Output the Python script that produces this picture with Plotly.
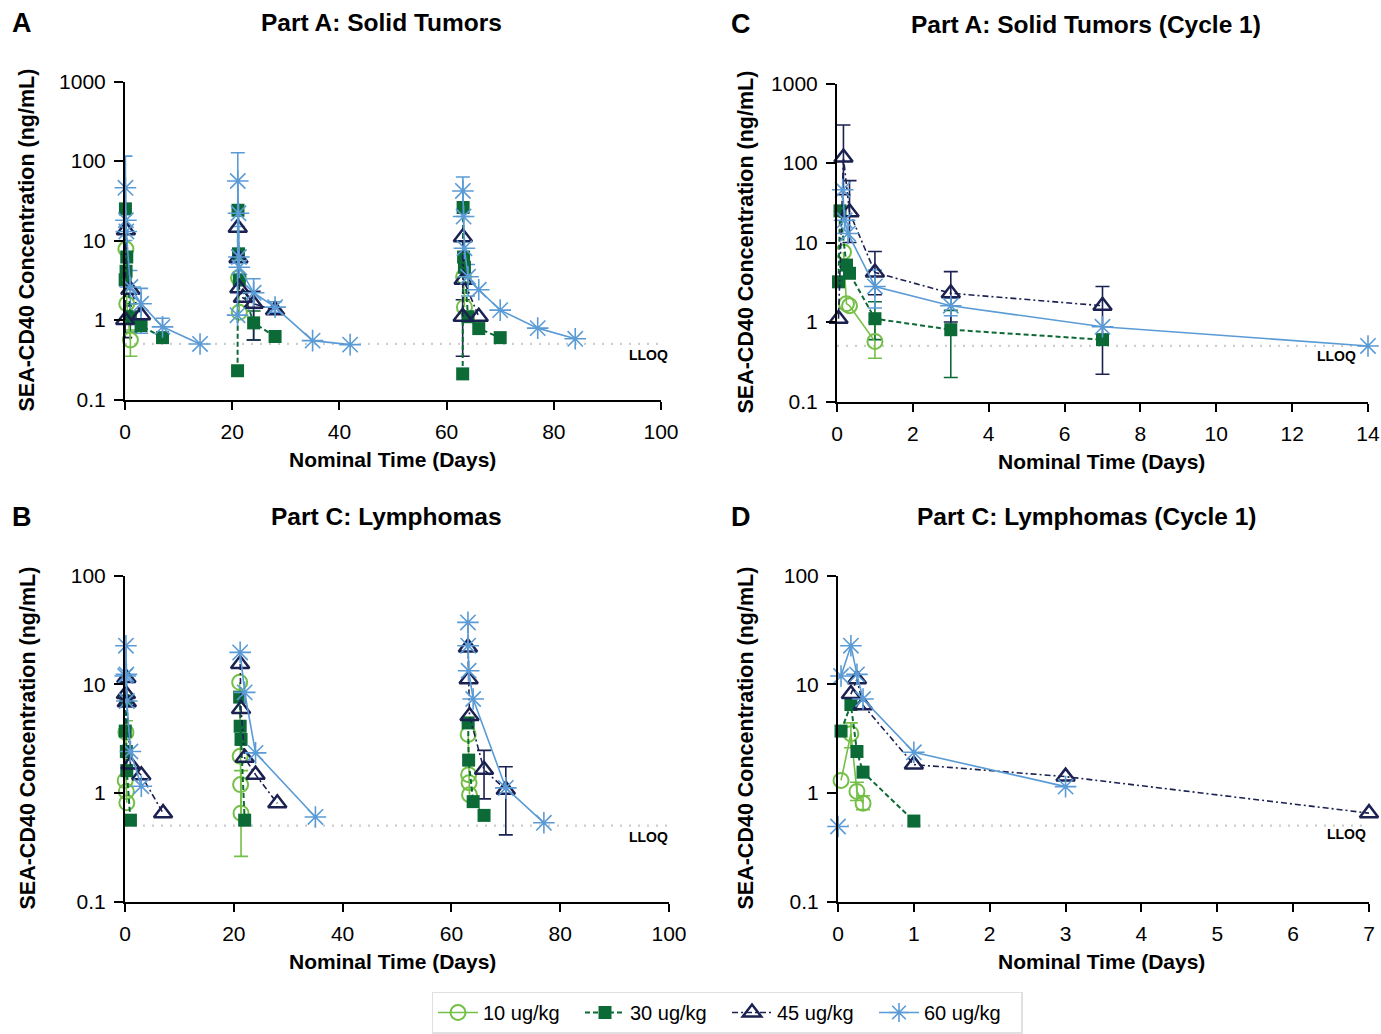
import plotly.graph_objects as go

W, H = 1381, 1034
FONT = "Liberation Sans, Arial, sans-serif"

DOSES = ["10 ug/kg", "30 ug/kg", "45 ug/kg", "60 ug/kg"]
COLORS = ["#74BF46", "#0B6A35", "#1B2150", "#5B9BD5"]
SYMBOLS = ["circle-open", "square", "triangle-up-open", "asterisk-open"]
SIZES = [15, 13, 16, 18]
MLW = [2, 0, 2.5, 1.6]
DASHES = ["solid", "5px,3px", "6px,3px,2px,3px", "solid"]
LLOQ = 0.5

# ---------------- Panel A: Part A Solid Tumors (all cycles) ----------------
A_T10 = [0.17, 0.33, 1, None, 21.17, 21.33, None, 63.17, 63.33]
A_V10 = [7.8, 1.6, 0.56, None, 3.4, 1.25, None, 3.5, 1.45]
A_T30 = [0.03, 0.08, 0.2, 0.33, 1, 3, 7, None, 21.0, 21.08, 21.17, 21.33, 24, 28,
         None, 63.0, 63.08, 63.17, 63.33, 64, 66, 70]
A_V30 = [3.2, 25, 4.1, 6.2, 1.1, 0.85, 0.6, None, 0.23, 24, 6.8, 3.2, 0.92, 0.62,
         None, 0.21, 26, 6.2, 4.6, 1.1, 0.78, 0.6]
A_T45 = [0.04, 0.17, 1, 3, None, 21.04, 21.17, 21.33, 22, 24, 28, None, 63.0, 63.04, 63.17, 66]
A_V45 = [1.0, 13.5, 2.4, 1.15, None, 14.5, 6.0, 2.5, 1.9, 1.6, 1.33, None, 1.1, 11, 3.2, 1.1]
A_T60 = [0.08, 0.17, 0.25, 1, 3, 7, 14, None, 21.0, 21.04, 21.17, 21.25, 21.33, 24, 28, 35, 42,
         None, 63.04, 63.17, 63.33, 64, 66, 70, 77, 84]
A_V60 = [46, 18, 13, 2.6, 1.6, 0.82, 0.5, None, 1.15, 56, 22, 6.2, 4.6, 2.2, 1.45, 0.55, 0.49,
         None, 42, 20, 8, 3.5, 2.4, 1.33, 0.79, 0.58]
# error bars: (time, value, lower, upper)
A_ERR10 = [(1, 0.56, 0.35, 0.75)]
A_ERR30 = [(24, 0.92, 0.56, 1.3), (1, 1.1, 0.7, 1.6)]
A_ERR45 = [(24, 1.6, 0.56, 2.3), (63.0, 1.1, 0.35, 1.8), (0.04, 1.0, 0.6, 1.5)]
A_ERR60 = [(0.08, 46, 10, 115), (1, 2.6, 1.0, 4.2), (3, 1.6, 0.68, 2.5), (7, 0.82, 0.68, 1.05),
           (21.04, 56, 15, 127), (24, 2.2, 1.4, 3.3), (28, 1.45, 1.25, 1.7),
           (63.04, 42, 20, 63), (64, 3.5, 2.0, 5.0)]

# ---------------- Panel C: Part A Solid Tumors (Cycle 1) ----------------
C_T10 = [0.17, 0.25, 0.33, 1]
C_V10 = [7.6, 1.7, 1.6, 0.57]
C_T30 = [0.04, 0.08, 0.25, 0.33, 1, 3, 7]
C_V30 = [3.2, 25, 5.2, 4.1, 1.1, 0.8, 0.6]
C_T45 = [0.04, 0.17, 0.33, 1, 3, 7]
C_V45 = [1.1, 117, 24, 4.2, 2.3, 1.6]
C_T60 = [0.15, 0.2, 0.29, 1, 3, 7, 14]
C_V60 = [46, 19, 13, 2.8, 1.6, 0.87, 0.5]
C_ERR10 = [(1, 0.57, 0.35, 1.0)]
C_ERR30 = [(3, 0.8, 0.2, 1.4), (1, 1.1, 0.6, 1.8)]
C_ERR45 = [(0.17, 117, 40, 300), (0.33, 24, 10, 60), (1, 4.2, 2.2, 7.7), (3, 2.3, 1.0, 4.3),
           (7, 1.6, 0.22, 2.8)]
C_ERR60 = [(1, 2.8, 1.5, 4.5), (3, 1.6, 1.2, 2.0)]

# ---------------- Panel B: Part C Lymphomas (all cycles) ----------------
B_T10 = [0.04, 0.17, 0.25, 0.33, None, 21.08, 21.17, 21.25, 21.33, None, 63.08, 63.17, 63.25, 63.33]
B_V10 = [1.3, 3.6, 1.03, 0.81, None, 10.4, 2.17, 1.19, 0.65, None, 3.45, 1.47, 1.24, 0.96]
B_T30 = [0.04, 0.17, 0.25, 0.33, 1, None, 21.08, 21.17, 21.33, 22, None, 63.08, 63.17, 64, 66]
B_V30 = [3.7, 7.0, 2.4, 1.6, 0.56, None, 7.6, 4.1, 3.1, 0.56, None, 4.4, 2.0, 0.83, 0.62]
B_T45 = [0.17, 0.25, 0.33, 1, 3, 7, None, 21.17, 21.33, 22, 24, 28, None, 63.04, 63.17, 63.33, 66, 70]
B_V45 = [8.1, 11.4, 6.8, 1.82, 1.45, 0.65, None, 15.3, 5.9, 2.1, 1.47, 0.8, None, 21.8, 11.1, 5.1, 1.63, 1.07]
B_T60 = [0.04, 0.17, 0.25, 0.33, 1, 3, None, 21.17, 22, 24, 35, None, 63.04, 63.08, 63.17, 64, 70, 77]
B_V60 = [11.9, 22.6, 12.3, 7.0, 2.4, 1.15, None, 19.6, 8.4, 2.33, 0.6, None, 37, 22.6, 13.3, 7.3, 1.11, 0.53]
B_ERR10 = [(21.33, 0.65, 0.26, 1.6), (0.17, 3.6, 2.6, 4.6)]
B_ERR30 = []
B_ERR45 = [(66, 1.63, 0.88, 2.46), (70, 1.07, 0.41, 1.74)]
B_ERR60 = []

# ---------------- Panel D: Part C Lymphomas (Cycle 1) ----------------
D_T10 = [0.04, 0.17, 0.25, 0.33]
D_V10 = [1.3, 3.5, 1.03, 0.8]
D_T30 = [0.04, 0.17, 0.25, 0.33, 1]
D_V30 = [3.7, 6.5, 2.4, 1.55, 0.55]
D_T45 = [0.17, 0.25, 0.33, 1, 3, 7]
D_V45 = [8.1, 11.1, 6.4, 1.82, 1.41, 0.65]
D_T60 = [0, None, 0.04, 0.17, 0.25, 0.33, 1, 3]
D_V60 = [0.49, None, 11.9, 22.6, 12.3, 7.3, 2.36, 1.14]
D_ERR10 = [(0.17, 3.5, 2.6, 4.4), (0.25, 1.03, 0.85, 1.25), (0.33, 0.8, 0.7, 0.94)]
D_ERR30 = []
D_ERR45 = []
D_ERR60 = []

X_TICKS_A = [0, 20, 40, 60, 80, 100]
X_TICKS_C = [0, 2, 4, 6, 8, 10, 12, 14]
X_TICKS_D = [0, 1, 2, 3, 4, 5, 6, 7]
Y_TICKS_1000 = [0.1, 1, 10, 100, 1000]
Y_TICKS_100 = [0.1, 1, 10, 100]
Y_TICK_TEXT = {0.1: "0.1", 1: "1", 10: "10", 100: "100", 1000: "1000"}

# panel geometry in pixels: (x0px, x1px, ytop_px, ybot_px)
PANELS = {
    "A": dict(ax="", px=(125, 661), py=(81.5, 399.5), xr=(0, 100), yr=(-1, 3), xt=X_TICKS_A, yt=Y_TICKS_1000,
              data=[(A_T10, A_V10, A_ERR10), (A_T30, A_V30, A_ERR30), (A_T45, A_V45, A_ERR45), (A_T60, A_V60, A_ERR60)],
              title="Part A: Solid Tumors", letter="A"),
    "C": dict(ax="2", px=(837, 1368), py=(83.5, 401.5), xr=(0, 14), yr=(-1, 3), xt=X_TICKS_C, yt=Y_TICKS_1000,
              data=[(C_T10, C_V10, C_ERR10), (C_T30, C_V30, C_ERR30), (C_T45, C_V45, C_ERR45), (C_T60, C_V60, C_ERR60)],
              title="Part A: Solid Tumors (Cycle 1)", letter="C"),
    "B": dict(ax="3", px=(125, 669), py=(575.5, 901.5), xr=(0, 100), yr=(-1, 2), xt=X_TICKS_A, yt=Y_TICKS_100,
              data=[(B_T10, B_V10, B_ERR10), (B_T30, B_V30, B_ERR30), (B_T45, B_V45, B_ERR45), (B_T60, B_V60, B_ERR60)],
              title="Part C: Lymphomas", letter="B"),
    "D": dict(ax="4", px=(838, 1369), py=(575.5, 901.5), xr=(0, 7), yr=(-1, 2), xt=X_TICKS_D, yt=Y_TICKS_100,
              data=[(D_T10, D_V10, D_ERR10), (D_T30, D_V30, D_ERR30), (D_T45, D_V45, D_ERR45), (D_T60, D_V60, D_ERR60)],
              title="Part C: Lymphomas (Cycle 1)", letter="D"),
}

fig = go.Figure()
layout = dict(
    width=W, height=H, margin=dict(l=0, r=0, t=0, b=0, autoexpand=False),
    paper_bgcolor="white", plot_bgcolor="white",
    font=dict(family=FONT, color="black", size=21),
    showlegend=True,
    legend=dict(orientation="h", x=727 / W, xanchor="center", y=1 - 991.5 / H, yanchor="top",
                bordercolor="#e0e0e0", borderwidth=1.5, font=dict(size=20), itemwidth=40,
                entrywidth=92, entrywidthmode="pixels", traceorder="normal"),
    annotations=[],
)

first = True
for key, p in PANELS.items():
    xa, ya = "x" + p["ax"], "y" + p["ax"]
    xname, yname = "xaxis" + p["ax"], "yaxis" + p["ax"]
    x0, x1 = p["px"]
    yt, yb = p["py"]
    layout[xname] = dict(domain=[x0 / W, x1 / W], range=list(p["xr"]), anchor=ya,
                         showline=True, linecolor="black", linewidth=2, ticks="outside",
                         ticklen=8, tickwidth=2, tickcolor="black", showgrid=False, zeroline=False,
                         tickvals=p["xt"], ticktext=[str(v) for v in p["xt"]], ticklabelstandoff=4,
                         tickfont=dict(size=21, family=FONT))
    layout[yname] = dict(domain=[1 - yb / H, 1 - yt / H], type="log", range=list(p["yr"]), anchor=xa,
                         showline=True, linecolor="black", linewidth=2, ticks="outside",
                         ticklen=9, tickwidth=2, tickcolor="black", showgrid=False, zeroline=False,
                         tickvals=p["yt"], ticktext=[Y_TICK_TEXT[v] for v in p["yt"]], ticklabelstandoff=4,
                         tickfont=dict(size=21, family=FONT))
    # LLOQ dotted line
    fig.add_trace(go.Scatter(x=list(p["xr"]), y=[LLOQ, LLOQ], mode="lines", xaxis=xa, yaxis=ya,
                             line=dict(color="#cdcdcd", width=2.2, dash="2px,7px"), showlegend=False,
                             hoverinfo="skip"))
    # error bars first (under markers)
    for i, (t, v, errs) in enumerate(p["data"]):
        if errs:
            et = [e[0] for e in errs]
            ev = [e[1] for e in errs]
            elo = [e[1] - e[2] for e in errs]
            ehi = [e[3] - e[1] for e in errs]
            fig.add_trace(go.Scatter(x=et, y=ev, mode="markers", xaxis=xa, yaxis=ya,
                                     marker=dict(size=1, color="rgba(0,0,0,0)"),
                                     error_y=dict(type="data", symmetric=False, array=ehi, arrayminus=elo,
                                                  color=COLORS[i], thickness=1.6, width=7),
                                     showlegend=False, hoverinfo="skip", cliponaxis=False))
    for i, (t, v, errs) in enumerate(p["data"]):
        fig.add_trace(go.Scatter(
            x=t, y=v, mode="lines+markers", xaxis=xa, yaxis=ya, name=DOSES[i],
            legendgroup=DOSES[i], showlegend=first, cliponaxis=False, connectgaps=False,
            line=dict(color=COLORS[i], width=1.6 if i != 1 else 2, dash=DASHES[i]),
            marker=dict(symbol=SYMBOLS[i], size=SIZES[i], color=COLORS[i],
                        line=dict(color=COLORS[i], width=MLW[i])),
        ))
    first = False

    cx = (x0 + x1) / 2
    # panel title
    layout["annotations"].append(dict(text="<b>%s</b>" % p["title"], xref="paper", yref="paper",
                                      x=(cx - 11 if key in ("A", "B") else cx - 17) / W,
                                      y=1 - (yt - 59) / H, xanchor="center", yanchor="middle",
                                      showarrow=False, font=dict(size=24.5, family=FONT)))
    # letter
    lx = 22 if key in ("A", "B") else 741
    layout["annotations"].append(dict(text="<b>%s</b>" % p["letter"], xref="paper", yref="paper",
                                      x=lx / W, y=1 - (yt - 59) / H, xanchor="center", yanchor="middle",
                                      showarrow=False, font=dict(size=27, family=FONT)))
    # x title
    layout["annotations"].append(dict(text="<b>Nominal Time (Days)</b>", xref="paper", yref="paper",
                                      x=(392 if key in ("A", "B") else 1101) / W, y=1 - (yb + 60) / H,
                                      xanchor="center", yanchor="middle",
                                      showarrow=False, font=dict(size=21, family=FONT)))
    # y title
    tx = 27 if key in ("A", "B") else 745
    layout["annotations"].append(dict(text="<b>SEA-CD40 Concentration (ng/mL)</b>", xref="paper", yref="paper",
                                      x=tx / W, y=1 - (yt + yb) / 2 / H, xanchor="center", yanchor="middle",
                                      textangle=-90, showarrow=False, font=dict(size=21.5, family=FONT)))
    # LLOQ label
    lr = {"A": 670, "C": 1358, "B": 670, "D": 1368}[key]
    ly = {"A": 355, "C": 356, "B": 837, "D": 834}[key]
    layout["annotations"].append(dict(text="<b>LLOQ</b>", xref="paper", yref="paper",
                                      x=lr / W, y=1 - ly / H, xanchor="right", yanchor="middle",
                                      showarrow=False, font=dict(size=14, family=FONT)))

fig.update_layout(**layout)
fig.write_html("out.html")
